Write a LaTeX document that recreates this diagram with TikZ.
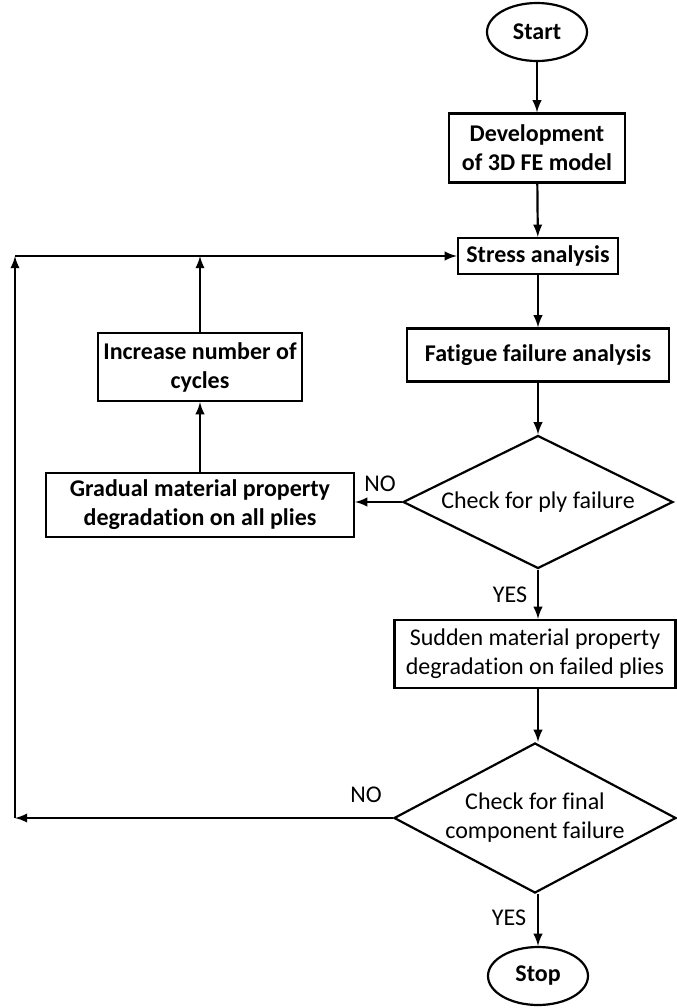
\documentclass[tikz,border=0pt]{standalone}
\usepackage{fontspec}
\setmainfont{Carlito}[Ligatures=NoCommon]
\usetikzlibrary{shapes.geometric}

\begin{document}
\begin{tikzpicture}[x=0.5pt, y=-0.5pt, line width=1.1pt, >=latex,
        stepbox/.style={draw, rectangle, align=center, inner sep=0pt, font=\bfseries\fontsize{12}{14.5}\selectfont},
        terminal/.style={draw, ellipse, inner sep=0pt, minimum width=50pt, minimum height=29pt, font=\bfseries\fontsize{12}{14.5}\selectfont},
        check/.style={draw, diamond, aspect=2, align=center, inner sep=0pt, font=\fontsize{12}{14.5}\selectfont},
        answer/.style={font=\fontsize{12}{14.5}\selectfont}]

        \useasboundingbox (0, 0) rectangle (676, 1008);

        % main column
        \node[terminal] (start) at (537, 32) {Start};
        \node[stepbox, minimum width=88pt, minimum height=34.5pt] (model) at (537, 148) {Development\\of 3D FE model};
        \node[stepbox, minimum width=80pt, minimum height=18pt] (stress) at (538, 256) {Stress analysis};
        \node[stepbox, minimum width=131pt, minimum height=26.5pt] (fatigue) at (538, 355) {Fatigue failure analysis};
        \node[check, minimum width=135pt, minimum height=66.5pt] (plycheck) at (538, 502) {Check for ply failure};
        \node[stepbox, font=\fontsize{12}{14.5}\selectfont, minimum width=140.5pt, minimum height=34pt] (sudden) at (535, 654) {Sudden material property\\degradation on failed plies};
        \node[check, aspect=1.9, minimum width=141pt, minimum height=75pt] (finalcheck) at (535, 818) {Check for final\\component failure};
        \node[terminal] (stop) at (538, 976) {Stop};

        % loop column
        \node[stepbox, minimum width=154pt, minimum height=32pt] (gradual) at (200, 505) {Gradual material property\\degradation on all plies};
        \node[stepbox, minimum width=102pt, minimum height=34pt] (cycles) at (200, 367) {Increase number of\\cycles};

        \coordinate (loopbottom) at (15, 818);
        \coordinate (looptop) at (15, 256);
        \coordinate (cyclestop) at (200, 256);

        % labels
        \node[answer] (no1) at (380, 484) {NO};
        \node[answer] (yes1) at (510, 595) {YES};
        \node[answer] (no2) at (366, 795) {NO};
        \node[answer] (yes2) at (509, 918) {YES};

        % connectors
        \draw[->] (start) -- (model);
        \draw[->] (model) -- (stress);
        \draw[->] (stress) -- (fatigue);
        \draw[->] (fatigue) -- (plycheck);
        \draw[->] (plycheck.west) -- (plycheck.west -| gradual.east);
        \draw[->] (gradual) -- (cycles);
        \draw[->] (cycles) -- (cyclestop);
        \draw[->] (plycheck.south) -- (plycheck.south |- sudden.north);
        \draw[->] (plycheck.south |- sudden.south) -- (finalcheck.north -| plycheck.south);
        \draw[->] (finalcheck.south -| stop.north) -- (stop);
        \draw[->] (finalcheck.west) -- (loopbottom);
        \draw[->] (loopbottom) -- (looptop);
        \draw[->] (looptop) -- (stress.west);
    \end{tikzpicture}
\end{document}
